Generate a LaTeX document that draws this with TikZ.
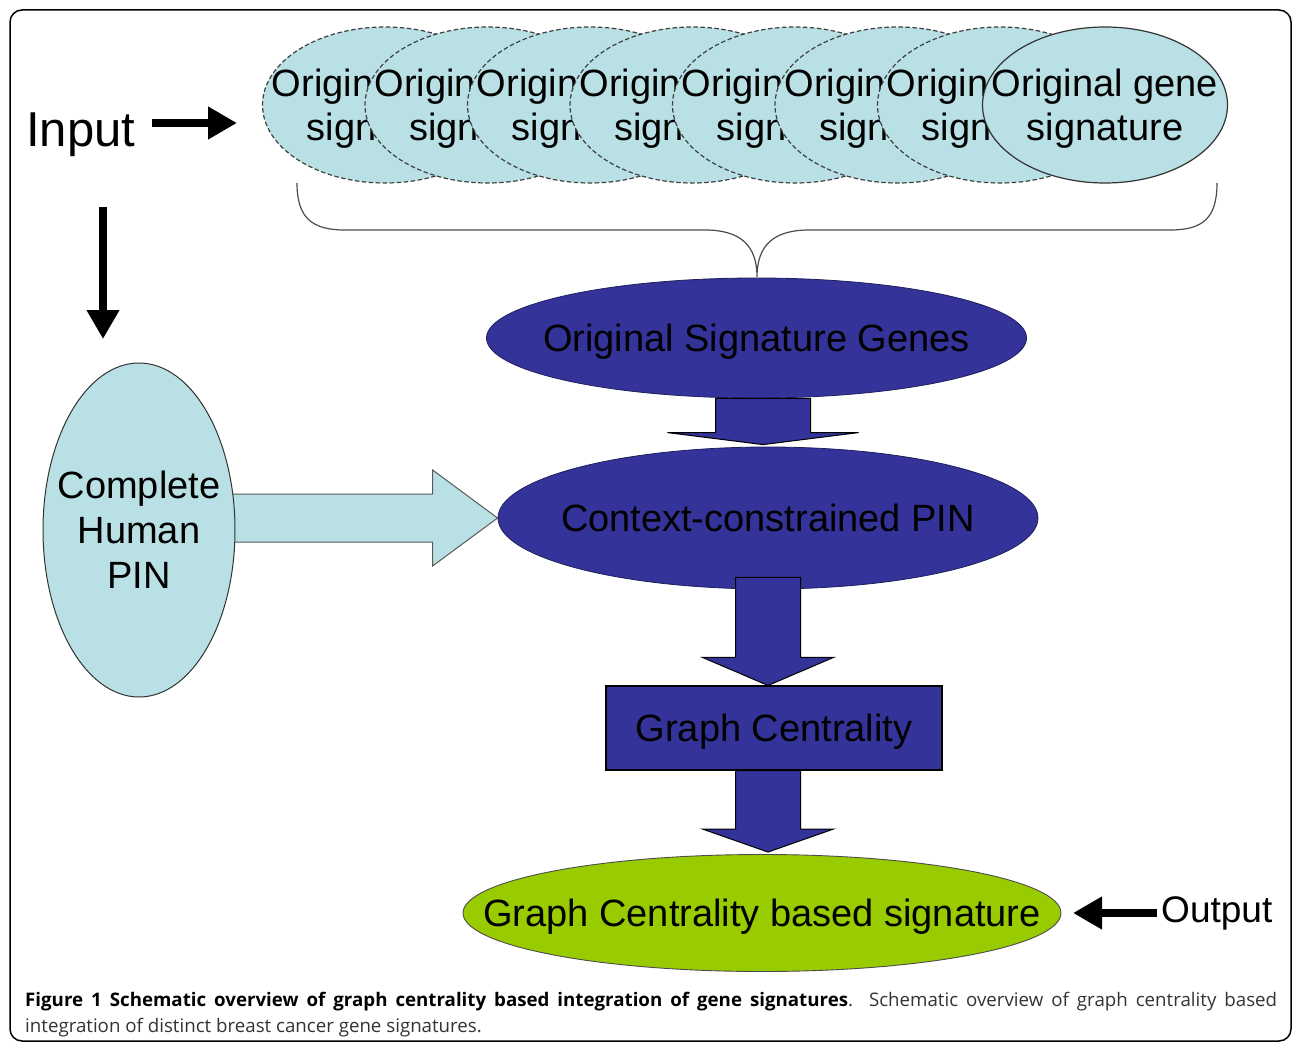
\documentclass[tikz,border=0pt]{standalone}
\usepackage{fontspec}
\setmainfont{Liberation Sans}
\newfontfamily\capfont{Open Sans}
\usetikzlibrary{shapes.geometric,arrows.meta,calc,backgrounds}
\definecolor{sigcyan}{RGB}{185,224,228}
\definecolor{pinblue}{RGB}{51,51,153}
\definecolor{outgreen}{RGB}{153,204,0}
\newcommand{\blkdown}[6]{\path[#1] let \p1=(#2), \p2=(#3) in
  (\x2-#4,\y1) -- (\x2+#4,\y1) -- (\x2+#4,\y2+#6) -- (\x2+#5,\y2+#6) -- (\x2,\y2)
  -- (\x2-#5,\y2+#6) -- (\x2-#4,\y2+#6) -- cycle;}
\begin{document}
\begin{tikzpicture}[x=1pt,y=-1pt,
  txt/.style={font=\fontsize{38}{44}\selectfont, align=center, inner sep=0pt, text depth=0pt},
  ell/.style={ellipse, txt, inner xsep=-200pt, inner ysep=-80pt},
  sigell/.style={ell, fill=sigcyan, draw=black!75, line width=1.2pt,
    dash pattern=on 4.5pt off 2.5pt, minimum width=245pt, minimum height=156pt},
  lastell/.style={sigell, solid, draw=black!80},
  blueell/.style={ell, fill=pinblue, draw=pinblue!60!black, line width=0.8pt},
  bluebox/.style={rectangle, txt, fill=pinblue, draw=black, line width=1.1pt},
  greenell/.style={ell, fill=outgreen, draw=black!70, line width=0.9pt},
  cyanell/.style={ell, fill=sigcyan, draw=black!80, line width=1pt, font=\fontsize{38}{45}\selectfont},
  blockarr/.style={fill=pinblue, draw=black, line width=1pt, line join=miter},
  cyanarr/.style={fill=sigcyan, draw=black!65, line width=1pt, line join=miter},
  blk/.style={line width=8pt, -{Triangle[length=29pt,width=31pt]}},
  brace/.style={draw=black!70, line width=1.2pt},
  frame/.style={draw=black, line width=1.5pt, rounded corners=12pt}]
\useasboundingbox (0,0) rectangle (1293,1043);
\path[frame] (10,10) rectangle (1291,1041);

% input / output labels
\node[anchor=base west, inner sep=0pt, font=\fontsize{49}{55}\selectfont] (input) at (26,147) {Input};
\node[anchor=base west, inner sep=0pt, font=\fontsize{37}{42}\selectfont] (output) at (1161,922) {Output};
\coordinate (inS) at (152,123);
\coordinate (inE) at (237,123);
\coordinate (dnS) at (103,207);
\coordinate (dnE) at (103,339);
\coordinate (outS) at (1157,913);
\coordinate (outE) at (1073,913);
\draw[blk] (inS) -- (inE);
\draw[blk] (dnS) -- (dnE);
\draw[blk] (outS) -- (outE);

% stacked gene signatures
\node[sigell] (e1) at (385,105) {Original gene\\signature};
\node[sigell] (e2) at (487.5,105) {Original gene\\signature};
\node[sigell] (e3) at (590,105) {Original gene\\signature};
\node[sigell] (e4) at (692.5,105) {Original gene\\signature};
\node[sigell] (e5) at (795,105) {Original gene\\signature};
\node[sigell] (e6) at (897.5,105) {Original gene\\signature};
\node[sigell] (e7) at (1000,105) {Original gene\\signature};
\node[lastell] (e8) at (1105,105) {Original gene\\signature};

% brace
\coordinate (bL) at (297,183);
\coordinate (bT) at (757,277);
\coordinate (bR) at (1217,183);
\draw[brace] (bL) .. controls (297,218) and (312,230) .. (345,230) -- (705,230)
  .. controls (740,230) and (757,245) .. (bT)
  .. controls (757,245) and (774,230) .. (809,230) -- (1170,230)
  .. controls (1203,230) and (1217,218) .. (bR);

% main flow
\node[blueell, minimum width=540pt, minimum height=120pt] (sig) at (756.5,338) {Original Signature Genes};
\node[blueell, minimum width=540pt, minimum height=142pt] (ctx) at (768,518) {Context-constrained PIN};
\node[bluebox, minimum width=336pt, minimum height=84pt] (gbox) at (774,728) {Graph Centrality};
\node[greenell, minimum width=598pt, minimum height=117pt] (outn) at (762,913) {Graph Centrality based signature};
\node[cyanell, minimum width=192pt, minimum height=334pt] (cpin) at (139,530) {Complete\\Human\\PIN};

\begin{scope}[on background layer]
\path[cyanarr] let \p1=(cpin.east), \p2=(ctx.west) in
  (\x1-20pt,\y2+24pt) -- (\x2-65pt,\y2+24pt) -- (\x2-65pt,\y2+48pt) -- (\x2,\y2)
  -- (\x2-65pt,\y2-48pt) -- (\x2-65pt,\y2-24pt) -- (\x1-20pt,\y2-24pt);
\end{scope}

\blkdown{blockarr}{sig.south}{$(ctx.north)+(-5,-2)$}{47.5pt}{95.5pt}{12pt}
\blkdown{blockarr}{$(ctx.south)+(0,-12)$}{$(gbox.north)+(-6,0)$}{32.5pt}{65.5pt}{28pt}
\blkdown{blockarr}{gbox.south}{$(outn.north)+(6,-2)$}{32.5pt}{65.5pt}{23pt}

% caption
\node[anchor=base west, inner sep=0pt, font=\capfont\fontsize{18.7}{26}\selectfont] (cap1) at (25,1006)
  {\makebox[1252pt][s]{\textbf{Figure 1 Schematic overview of graph centrality based integration of gene signatures}\textcolor{black!80}{. Schematic overview of graph centrality based}}};
\node[anchor=base west, inner sep=0pt, font=\capfont\fontsize{18.7}{26}\selectfont, text=black!80] (cap2) at (25,1032)
  {integration of distinct breast cancer gene signatures.};
\end{tikzpicture}
\end{document}
